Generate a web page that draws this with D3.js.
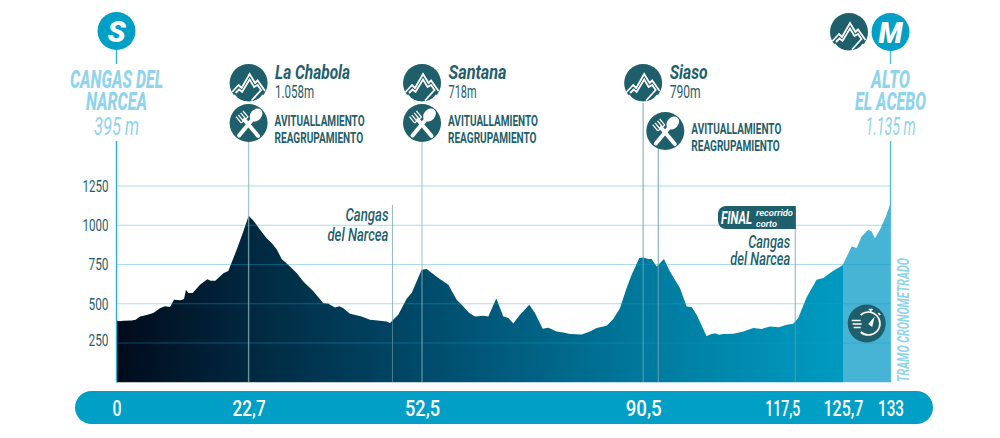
<!DOCTYPE html>
<html><head><meta charset="utf-8">
<script src="https://cdn.jsdelivr.net/npm/d3@7"></script>
<style>html,body{margin:0;padding:0;background:#fff}svg{display:block}</style>
</head><body><svg id="c" width="1000" height="438"></svg>
<script>
const profileKm = [0,0.6,1.17,2.6,3.3,4.04,5.2,6.33,7.47,8.33,9.19,9.88,11.03,11.6,11.94,12.34,13.09,14.35,15.61,16.18,16.98,18.36,19.21,20.65,21.79,22.71,23.51,24.6,25.8,26.7,27.52,28.38,29.81,31,32.1,33.82,35.54,36.4,37.54,38.3,38.98,40.12,42.13,43.56,45.27,46.42,46.99,47.85,48.42,49.86,50.72,52.43,53.29,55.3,57.02,58.45,59.31,60.62,61.6,63.03,63.89,65.26,66.47,67.33,68.18,69.33,70.93,71.9,73.23,74.2,75.63,76.78,77.92,79.93,81.36,82.5,84.22,85.4,86.51,87.66,88.52,89.83,90.52,91.38,91.95,92.81,94.07,95.1,96.82,97.97,98.83,99.69,101.4,102.0,102.84,103.5,104.27,105.99,107.6,109.42,110.9,112.29,113.8,115.15,116.29,117.15,118.59,120.3,121.45,123.17,124.77,126.32,127.18,128.04,129.18,129.75,130.33,131.19,132.33,132.9,133];
const profileElev = [394,388,392,394,398,419,428,441,472,485,479,525,523,530,589,568,568,621,657,646,646,695,708,844,961,1060,1031,975,918,885,848,785,738,695,642,579,504,500,477,485,472,436,419,398,392,387,377,409,430,532,568,717,721,664,621,525,494,441,419,424,419,534,419,409,375,430,494,441,341,347,324,317,307,305,324,345,360,405,472,600,685,791,795,785,785,738,785,706,600,483,479,430,294,305,313,303,307,309,322,345,340,356,350,366,373,409,542,653,664,710,746,865,855,929,971,961,918,971,1067,1131,1135];
const elevTicks = [250,500,750,1000,1250];
const distanceTickKm = [0,22.7,52.5,90.5,114.4,124.83,133];
const distanceLabels = ["0","22,7","52,5","90,5","117,5","125,7","133"];
const climbNames = ["La Chabola","Santana","Siaso"];
const climbKm = [22.7,52.5,90.5];
const climbHeights = ["1.058m","718m","790m"];
const feedKm = [22.7,52.5,93.1];
const feedLines = ["AVITUALLAMIENTO","REAGRUPAMIENTO"];
const townKm = [47.42,116.63];
const townLines = ["Cangas","del Narcea"];
const timedStartKm = 124.83;

const DARK="#1f5f6b", BLUE="#00a0c6", PALE="#8fd4ea", FONT="'Roboto','Liberation Sans',sans-serif";
const svg=d3.select("#c");
const x=d3.scaleLinear().domain([0,133]).range([116.5,890.5]);
const y=d3.scaleLinear().domain([0,1250]).range([382.3,186]);
const defs=svg.append("defs");
const grad=defs.append("linearGradient").attr("id","g").attr("gradientUnits","userSpaceOnUse")
  .attr("x1",x(0)).attr("x2",x(timedStartKm)).attr("y1",0).attr("y2",0);
[[0,"#000b1c"],[.18,"#00283f"],[.42,"#004a6a"],[.73,"#007a9e"],[.93,"#0093b9"],[1,"#009ac1"]]
 .forEach(s=>grad.append("stop").attr("offset",s[0]).attr("stop-color",s[1]));
defs.append("clipPath").attr("id","a").append("rect").attr("x",0).attr("y",0).attr("width",x(timedStartKm)).attr("height",438);
defs.append("clipPath").attr("id","b").append("rect").attr("x",x(timedStartKm)).attr("y",0).attr("width",200).attr("height",438);

function label(s,str,px,py,w,o={}){
  return s.append("text").attr("x",px).attr("y",py).text(str)
   .attr("font-family",FONT).attr("font-size",o.size||14).attr("font-weight",o.weight||400)
   .attr("font-style",o.italic?"italic":"normal").attr("fill",o.fill||DARK)
   .attr("text-anchor",o.anchor||"start").attr("textLength",w).attr("lengthAdjust","spacingAndGlyphs");
}
const pts=profileKm.map((k,i)=>[k,profileElev[i]]);
const area=d3.area().x(d=>x(d[0])).y0(y(0)).y1(d=>y(d[1]));

const grid=(col,op)=>svg.append("g").selectAll("line").data(elevTicks).join("line")
  .attr("x1",x(0)).attr("x2",x(133)).attr("y1",d=>y(d)).attr("y2",d=>y(d)).attr("stroke",col).attr("stroke-opacity",op).attr("stroke-width",1);
grid("#aadcea",1);

svg.append("path").datum(pts).attr("d",area).attr("fill","url(#g)").attr("clip-path","url(#a)");
svg.append("path").datum(pts).attr("d",area).attr("fill","#47b3d5").attr("clip-path","url(#b)");

defs.append("clipPath").attr("id","inA").append("path").datum(pts).attr("d",area);
grid("#12a0c8",.42).attr("clip-path","url(#inA)");

const vline=(k,y1,col,w,op)=>svg.append("line").attr("x1",x(k)).attr("x2",x(k)).attr("y1",y1).attr("y2",y(0)).attr("stroke",col).attr("stroke-width",w).attr("stroke-opacity",op);
vline(climbKm[0],140,"#8fb5bf",1.4,.75);
vline(climbKm[1],140,"#8fb5bf",1.4,.6);
vline(climbKm[2],100,"#6fa3b3",1.2,.8);
vline(feedKm[2],148,"#6fa3b3",1.2,.8);
vline(townKm[0],205,"#6f98a3",1,.7);
vline(townKm[1],210,"#6f98a3",1,.8);

svg.append("line").attr("x1",x(0)).attr("x2",x(0)).attr("y1",141).attr("y2",y(0)).attr("stroke","#2eb0d6").attr("stroke-width",1.4);
svg.append("line").attr("x1",x(0)).attr("x2",x(0)).attr("y1",49).attr("y2",64).attr("stroke","#2eb0d6").attr("stroke-width",1.4);
svg.append("line").attr("x1",x(133)).attr("x2",x(133)).attr("y1",141).attr("y2",y(0)).attr("stroke","#55bcdb").attr("stroke-width",1.4);
svg.append("line").attr("x1",x(133)).attr("x2",x(133)).attr("y1",49).attr("y2",64).attr("stroke","#55bcdb").attr("stroke-width",1.4);

const yAxis=svg.append("g").attr("transform",`translate(${x(0)},0)`).call(d3.axisLeft(y).tickValues(elevTicks).tickFormat(d=>String(d)).tickSize(0).tickPadding(8));
yAxis.select(".domain").remove();
yAxis.selectAll("text").attr("font-family",FONT).attr("font-size",17).attr("fill",DARK).attr("font-weight",400)
  .attr("y",d=>d===250?-3:0)
  .attr("textLength",d=>d>=1000?26:20).attr("lengthAdjust","spacingAndGlyphs");

svg.append("rect").attr("x",75).attr("y",391).attr("width",858).attr("height",33).attr("rx",16.5).attr("fill",BLUE);
const xAxis=svg.append("g").attr("transform","translate(0,408)")
  .call(d3.axisBottom(x).tickValues(distanceTickKm).tickFormat((d,i)=>distanceLabels[i]).tickSize(0).tickPadding(0));
xAxis.select(".domain").remove();
xAxis.selectAll("text").attr("y",8).attr("dy",0).attr("font-family",FONT).attr("font-size",22).attr("font-weight",500).attr("fill","#fff")
  .attr("textLength",(d,i)=>[9,33,35,36,35,40,26][i]).attr("lengthAdjust","spacingAndGlyphs");

function badge(cx,cy,col){return svg.append("g").attr("transform",`translate(${cx},${cy})`).call(g=>g.append("circle").attr("r",19).attr("fill",col));}
function mountain(cx,cy){
  const g=badge(cx,cy,DARK);
  const p=g.append("g").attr("fill","none").attr("stroke","#fff").attr("stroke-width",1.8).attr("stroke-linejoin","miter");
  p.append("path").attr("d","M-16.5 9 L-10 2 L-7 5 L1 -9 L6.5 0 L9 -2.5 L16.5 8");
  p.append("path").attr("d","M-13 10 L-9.5 6.5 L-6.5 9 L1 -3.5 L5.5 4 L9 2 L12.5 7 L3 17.5");
  p.append("path").attr("d","M-14.5 12 A18 18 0 0 0 14.5 12").attr("stroke-width",1.5);
  return g;
}
function cutlery(cx,cy){
  const g=badge(cx,cy,DARK);
  g.append("ellipse").attr("cx",7.5).attr("cy",-8).attr("rx",5.6).attr("ry",7.2).attr("transform","rotate(42 7.5 -8)").attr("fill","#fff");
  g.append("path").attr("d","M3 -2.5 L-9.5 12.5").attr("stroke","#fff").attr("stroke-width",4).attr("stroke-linecap","round");
  g.append("path").attr("d","M-4 -3 L9.5 13").attr("stroke","#fff").attr("stroke-width",4).attr("stroke-linecap","round");
  g.append("path").attr("d","M-7.5 -0.1 L-12.6 -6.3 M-5.2 -2 L-10.3 -8.2 M-2.8 -4 L-7.9 -10.2 M-0.5 -5.9 L-5.6 -12 M-7.5 -0.1 L-0.5 -5.9").attr("fill","none").attr("stroke","#fff").attr("stroke-width",1.3);
}
climbKm.forEach((k,i)=>{
  const cx=x(k);
  mountain(cx,83);
  const tx=cx+26.5;
  label(svg,climbNames[i],tx,79,[75,58,38][i],{size:20,italic:true,weight:700});
  label(svg,climbHeights[i],tx,98,[39,28,31][i],{size:18});
});
feedKm.forEach((k,i)=>{
  const shift=i===2?7:0, cy=i===2?131:123, cx=x(k)+shift, tx=cx+26;
  cutlery(cx,cy);
  label(svg,feedLines[0],tx,cy+2.5,90,{size:14.5,weight:700});
  label(svg,feedLines[1],tx,cy+19.5,88.5,{size:14.5,weight:700});
});

const sb=badge(x(0),31,BLUE);
sb.append("text").attr("y",10.5).attr("text-anchor","middle").text("S").attr("font-family",FONT).attr("font-weight",900).attr("font-style","italic").attr("font-size",30).attr("fill","#fff");
const mb=badge(x(133),32,BLUE);
mb.append("text").attr("y",10.5).attr("text-anchor","middle").text("M").attr("font-family",FONT).attr("font-weight",900).attr("font-style","italic").attr("font-size",30).attr("fill","#fff").attr("textLength",24).attr("lengthAdjust","spacingAndGlyphs");
mountain(x(133)-41.5,32);

const big={size:25,italic:true,weight:800,fill:PALE,anchor:"middle"};
label(svg,"CANGAS DEL",x(0),88,93,big);
label(svg,"NARCEA",x(0),110,61,big);
label(svg,"395 m",x(0),135,45,{size:25,italic:true,weight:400,fill:PALE,anchor:"middle"});
label(svg,"ALTO",x(133),88,39,big);
label(svg,"EL ACEBO",x(133),110,71,big);
label(svg,"1.135 m",x(133),135,50,{size:25,italic:true,weight:400,fill:PALE,anchor:"middle"});

const townStyle={size:18,italic:true,weight:500,anchor:"end"};
label(svg,townLines[0],x(townKm[0])-4,221,43,townStyle);
label(svg,townLines[1],x(townKm[0])-4,241,61,townStyle);
label(svg,townLines[0],x(townKm[1])-5,248,42,townStyle);
label(svg,townLines[1],x(townKm[1])-5,264.5,60,townStyle);

const fr=x(townKm[1])+.6;
svg.append("path").attr("d",`M${fr} 206 V229 H726 a8 8 0 0 1 -8 -8 V214 a8 8 0 0 1 8 -8 Z`).attr("fill",DARK);
label(svg,"FINAL",721,224,31,{size:18,italic:true,weight:700,fill:"#fff"});
label(svg,"recorrido",756,215.5,37,{size:9.5,italic:true,weight:600,fill:"#fff"});
label(svg,"corto",756,227,21,{size:9.5,italic:true,weight:600,fill:"#fff"});

const sw=badge(866.7,323.5,DARK);
const swg=sw.append("g").attr("fill","none").attr("stroke","#fff").attr("stroke-width",1.7);
swg.append("path").attr("d","M-6 -8.5 A11.5 11.5 0 1 1 -6 8.5");
swg.append("path").attr("d","M2 -14 H6 M4 -14 V-11 M11.5 -10.5 L13.5 -8.5");
swg.append("path").attr("d","M-15 -3 H-6 M-14 0.5 H-5 M-13 4 H-6");
sw.append("path").attr("d","M8 -7 L5.5 3.5 L1.5 0.5 Z").attr("fill","#fff");
label(svg,"TRAMO CRONOMETRADO",0,0,124,{size:17,italic:true,weight:700,fill:PALE}).attr("transform","translate(909,382) rotate(-90)");
</script></body></html>
